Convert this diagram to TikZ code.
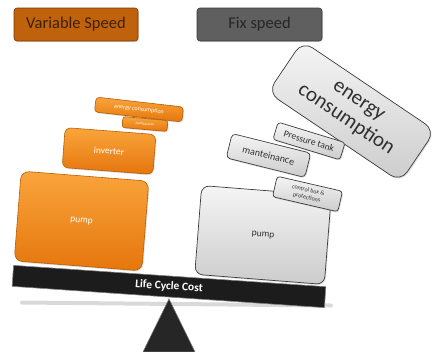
\documentclass[tikz,border=0pt]{standalone}
\usepackage{fontspec}
\setmainfont{Carlito}
\usetikzlibrary{shadows}
\definecolor{vsfill}{HTML}{C0620C}
\definecolor{vsdraw}{HTML}{7A3A00}
\definecolor{vstext}{HTML}{3B2206}
\definecolor{fsfill}{HTML}{5F5F5F}
\definecolor{fsdraw}{HTML}{3A3A3A}
\definecolor{fstext}{HTML}{262626}
\definecolor{orlight}{HTML}{F9A53C}
\definecolor{ordark}{HTML}{E5760C}
\definecolor{ordraw}{HTML}{B85C00}
\definecolor{grdraw}{HTML}{3C3C3C}
\definecolor{grtext}{HTML}{303030}
\definecolor{beamfill}{HTML}{1C1C1C}
\definecolor{fulcrum}{HTML}{262626}
\begin{document}
\begin{tikzpicture}[x=1pt,y=-1pt,
  header/.style={rounded corners=3pt, line width=0.6pt, inner sep=0pt,
    drop shadow={opacity=0.25,shadow xshift=1pt,shadow yshift=-1.2pt}},
  obox/.style={rounded corners=#1, draw=ordraw, line width=0.6pt,
    top color=orlight, bottom color=ordark, text=white, inner sep=0pt,
    align=center, drop shadow={opacity=0.25,shadow xshift=1pt,shadow yshift=-1.2pt}},
  gbox/.style={rounded corners=#1, draw=grdraw, line width=0.7pt,
    top color=white!96!black, bottom color=white!80!black, text=grtext, inner sep=0pt,
    align=center, drop shadow={opacity=0.25,shadow xshift=1pt,shadow yshift=-1.2pt}},
  fsz/.style={font=\fontsize{#1}{#1}\selectfont},
]
\useasboundingbox (0,0) rectangle (436,351);

% headers
\node[header, fill=vsfill, draw=vsdraw, text=vstext, minimum width=124pt, minimum height=33pt, fsz=16.5]
  (vs) at (76,24.5) {Variable Speed};
\node[header, fill=fsfill, draw=fsdraw, text=fstext, minimum width=125pt, minimum height=33pt, fsz=16.5]
  (fs) at (259.5,24.5) {Fix speed};

% shadow of the beam
\draw[line width=4pt, black!15, line cap=round] (22,302.5) -- (331,305.5);

% fulcrum
\filldraw[fill=fulcrum, draw=black!55, line width=0.6pt] (169,299) -- (195,352) -- (143,352) -- cycle;

% beam
\node[fill=beamfill, draw=black!50, line width=0.6pt, minimum width=313pt, minimum height=21pt,
  inner sep=0pt, rotate=-3.9, text=white, font=\bfseries\fontsize{11.5}{11.5}\selectfont]
  (beam) at (169,286.5) {Life Cycle Cost};

% variable speed stack
\node[obox=8pt, minimum width=128pt, minimum height=90pt, rotate=-4.5, fsz=9.5] (opump) at (81.5,221) {pump};
\node[obox=6pt, minimum width=91pt, minimum height=40pt, rotate=-4.4, fsz=9.5] (oinv) at (109,151) {inverter};
\node[obox=2.5pt, minimum width=45pt, minimum height=11pt, rotate=-5, fsz=3.5] (oman) at (145,124) {manteinance};
\node[obox=3.5pt, minimum width=88pt, minimum height=15pt, rotate=-6.5, fsz=6] (oen) at (139,109.5) {energy consumption};

% fix speed stack
\node[gbox=8pt, minimum width=130pt, minimum height=89pt, rotate=-4.5, fsz=9.5] (gpump) at (263,235) {pump};
\node[gbox=3pt, minimum width=67pt, minimum height=21pt, rotate=-13, fsz=6] (gctrl) at (307.5,194) {control box \&\\[1.5pt]protections};
\node[gbox=12pt, minimum width=160pt, minimum height=62pt, rotate=-34, fsz=21] (gen) at (351.5,111.5) {energy\\[2pt]consumption};
\node[gbox=3pt, minimum width=70pt, minimum height=18pt, rotate=-17, fsz=9.5] (gpt) at (309,141) {Pressure tank};
\node[gbox=4pt, minimum width=81pt, minimum height=25pt, rotate=-14, fsz=10] (gman) at (268.5,155.5) {manteinance};
\end{tikzpicture}
\end{document}
